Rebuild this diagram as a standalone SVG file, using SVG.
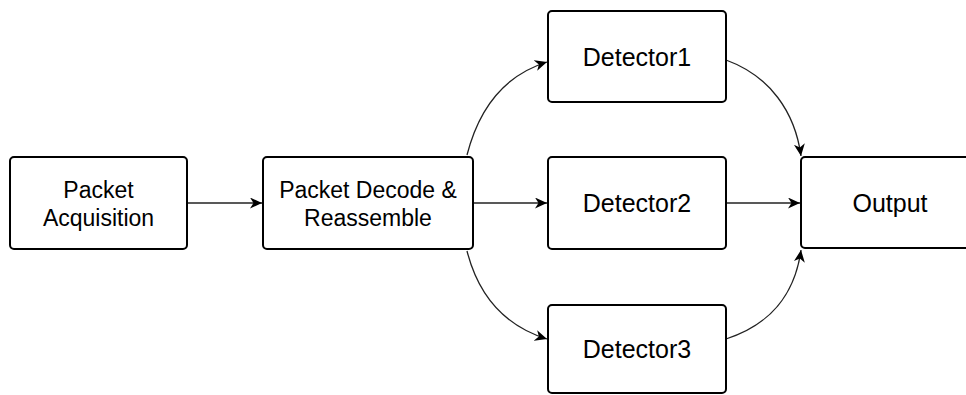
<svg xmlns="http://www.w3.org/2000/svg" width="966" height="395" viewBox="0 0 966 395">
<style>
.box{fill:#fff;stroke:#000;stroke-width:2}
.lbl{font-family:"Liberation Sans",Arial,sans-serif;font-size:23px;fill:#000;text-anchor:middle}
.big{font-size:25px}
.edge{fill:none;stroke:#222;stroke-width:1.3}
</style>
<defs>
<marker id="arr" markerUnits="userSpaceOnUse" markerWidth="15" markerHeight="12" refX="12" refY="5.5" orient="auto" viewBox="0 0 15 12">
<path d="M0,0 L12,5.5 L0,11 L3.5,5.5 Z" fill="#000"/>
</marker>
</defs>
<rect width="966" height="395" fill="#fff"/>
<g id="connectors">
<path class="edge" d="M187,203 L262,203" marker-end="url(#arr)"/>
<path class="edge" d="M473,203 L547,203" marker-end="url(#arr)"/>
<path class="edge" d="M726,203 L800,203" marker-end="url(#arr)"/>
<path class="edge" d="M467,155 C478,112 502,76 547,62" marker-end="url(#arr)"/>
<path class="edge" d="M726,60 C770,76 795,112 801,156" marker-end="url(#arr)"/>
<path class="edge" d="M467,251 C478,294 502,325 547,339" marker-end="url(#arr)"/>
<path class="edge" d="M726,339 C770,325 795,294 801,250" marker-end="url(#arr)"/>
</g>
<g id="acq">
<rect class="box" x="10" y="157" width="177" height="92" rx="4"/>
<text class="lbl" x="98.5" y="198">Packet</text>
<text class="lbl" x="98.5" y="226">Acquisition</text>
</g>
<g id="decode">
<rect class="box" x="263" y="157" width="210" height="92" rx="4"/>
<text class="lbl" x="368" y="198">Packet Decode &amp;</text>
<text class="lbl" x="368" y="226">Reassemble</text>
</g>
<g id="det1">
<rect class="box" x="548" y="11" width="178" height="91" rx="4"/>
<text class="lbl big" x="637" y="66">Detector1</text>
</g>
<g id="det2">
<rect class="box" x="548" y="157" width="178" height="92" rx="4"/>
<text class="lbl big" x="637" y="212">Detector2</text>
</g>
<g id="det3">
<rect class="box" x="548" y="305" width="178" height="88" rx="4"/>
<text class="lbl big" x="637" y="358">Detector3</text>
</g>
<g id="output">
<rect class="box" x="801" y="157" width="180" height="91" rx="4"/>
<text class="lbl big" x="890" y="212">Output</text>
</g>
</svg>
